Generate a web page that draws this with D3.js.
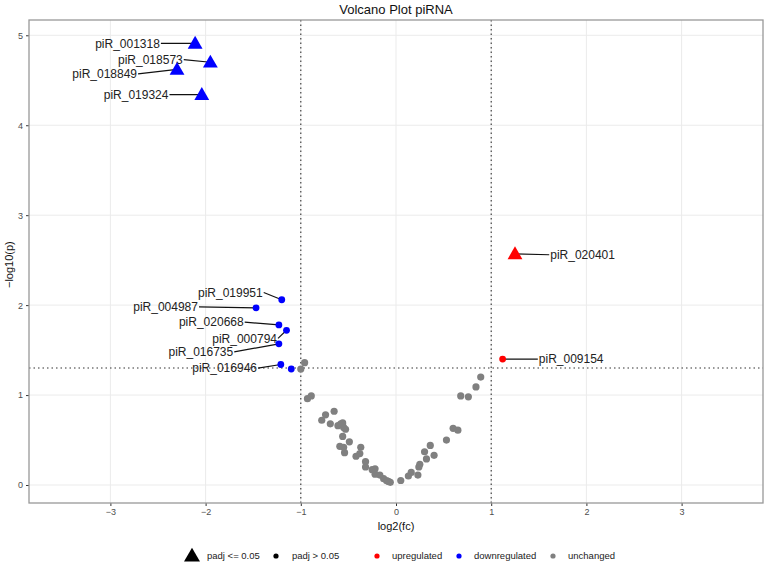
<!DOCTYPE html>
<html>
<head>
<meta charset="utf-8">
<script src="https://cdnjs.cloudflare.com/ajax/libs/d3/7.8.5/d3.min.js"></script>
<style>
  body { margin: 0; background: #fff; }
  text { font-family: "Liberation Sans", Arial, sans-serif; }
</style>
</head>
<body>
<script>
// labelled piRNAs (significant ones)
var sigNames = ["piR_001318", "piR_018573", "piR_018849", "piR_019324",
                "piR_019951", "piR_004987", "piR_020668", "piR_000794",
                "piR_016735", "piR_016946", "piR_020401", "piR_009154"]
var sigFc   = [-2.11, -1.95, -2.30, -2.04, -1.20, -1.47, -1.23, -1.15, -1.23, -1.21, 1.25, 1.12]
var sigP    = [4.91, 4.70, 4.62, 4.34, 2.06, 1.97, 1.78, 1.72, 1.57, 1.34, 2.57, 1.40]
var sigPadj = ["yes", "yes", "yes", "yes", "no", "no", "no", "no", "no", "no", "yes", "no"]
var sigReg  = ["down", "down", "down", "down", "down", "down", "down", "down", "down", "down", "up", "up"]
// where ggrepel put the labels (data units)
var labelFc = [-2.48, -2.24, -2.72, -2.39, -1.40, -2.08, -1.60, -1.25, -1.71, -1.46, 1.62, 1.50]
var labelP  = [4.91, 4.73, 4.57, 4.34, 2.14, 1.98, 1.81, 1.63, 1.48, 1.30, 2.56, 1.40]

// one unlabeled downregulated point
var extraFc = [-1.10]
var extraP  = [1.29]

// unchanged piRNAs
var grayFc = [-1.00, -0.96, -0.93, -0.89, -0.78, -0.74, -0.69, -0.65, -0.61, -0.58, -0.56, -0.53,
              -0.55, -0.56, -0.49, -0.59, -0.55, -0.54, -0.37, -0.38, -0.42, -0.32, -0.32, -0.25,
              -0.22, -0.22, -0.17, -0.13, -0.10, -0.06, -0.08, 0.05, 0.13, 0.16, 0.23, 0.24,
              0.25, 0.30, 0.32, 0.36, 0.40, 0.53, 0.60, 0.65, 0.68, 0.76, 0.84, 0.89]
var grayP  = [1.29, 1.36, 0.96, 0.99, 0.72, 0.78, 0.68, 0.82, 0.66, 0.68, 0.69, 0.62,
              0.64, 0.54, 0.48, 0.43, 0.42, 0.36, 0.42, 0.35, 0.32, 0.26, 0.20, 0.17,
              0.18, 0.12, 0.11, 0.07, 0.05, 0.03, 0.04, 0.05, 0.10, 0.14, 0.11, 0.20,
              0.23, 0.37, 0.29, 0.44, 0.33, 0.50, 0.63, 0.61, 0.99, 0.98, 1.09, 1.20]

var xTicks = [-3, -2, -1, 0, 1, 2, 3]
var yTicks = [0, 1, 2, 3, 4, 5]
var fcCut = 1
var pCut = 1.301

var regColor = {"up": "#ff0000", "down": "#0000ff", "none": "#808080"}

var w = 766, h = 567
var margin = {top: 20, right: 3, bottom: 64, left: 29}

var svg = d3.select("body").append("svg")
  .attr("width", w)
  .attr("height", h)

var xScale = d3.scaleLinear()
  .domain([-3.855, 3.855])
  .range([margin.left, w - margin.right])

var yScale = d3.scaleLinear()
  .domain([-0.2, 5.17])
  .range([h - margin.bottom, margin.top])

// grid lines
svg.append("g").selectAll("line").data(xTicks).enter().append("line")
  .attr("x1", d => xScale(d)).attr("x2", d => xScale(d))
  .attr("y1", yScale.range()[0]).attr("y2", yScale.range()[1])
  .attr("stroke", "#ebebeb").attr("stroke-width", 1)
svg.append("g").selectAll("line").data(yTicks).enter().append("line")
  .attr("y1", d => yScale(d)).attr("y2", d => yScale(d))
  .attr("x1", xScale.range()[0]).attr("x2", xScale.range()[1])
  .attr("stroke", "#ebebeb").attr("stroke-width", 1)

// threshold lines
svg.selectAll(".vcut").data([-fcCut, fcCut]).enter().append("line")
  .attr("x1", d => xScale(d)).attr("x2", d => xScale(d))
  .attr("y1", yScale.range()[0]).attr("y2", yScale.range()[1])
  .attr("stroke", "#333").attr("stroke-width", 1.1)
  .attr("stroke-dasharray", "1.5,3")
svg.append("line")
  .attr("x1", xScale.range()[0]).attr("x2", xScale.range()[1])
  .attr("y1", yScale(pCut)).attr("y2", yScale(pCut))
  .attr("stroke", "#333").attr("stroke-width", 1.1)
  .attr("stroke-dasharray", "1.5,3")

// axes
var xAxis = svg.append("g")
  .attr("transform", "translate(0," + (h - margin.bottom) + ")")
  .call(d3.axisBottom(xScale).tickValues(xTicks).tickFormat(d3.format("d")).tickSize(3).tickPadding(3))
var yAxis = svg.append("g")
  .attr("transform", "translate(" + margin.left + ",0)")
  .call(d3.axisLeft(yScale).tickValues(yTicks).tickFormat(d3.format("d")).tickSize(3).tickPadding(3))
;[xAxis, yAxis].forEach(function(a){
  a.select(".domain").remove()
  a.selectAll(".tick line").attr("stroke", "#333")
  a.selectAll(".tick text").attr("fill", "#4d4d4d")
    .style("font-size", "9px")
    .style("font-family", "'Liberation Sans', Arial, sans-serif")
})

// panel border
svg.append("rect")
  .attr("x", xScale.range()[0]).attr("y", yScale.range()[1])
  .attr("width", xScale.range()[1] - xScale.range()[0])
  .attr("height", yScale.range()[0] - yScale.range()[1])
  .attr("fill", "none").attr("stroke", "#999").attr("stroke-width", 1.3)

// gray points
var grayData = grayFc.map((d, i) => ({fc: d, p: grayP[i]}))
svg.append("g").selectAll("circle").data(grayData).enter().append("circle")
  .attr("cx", d => xScale(d.fc)).attr("cy", d => yScale(d.p))
  .attr("r", 3.6).attr("fill", regColor.none)

svg.append("g").selectAll("circle").data(extraFc).enter().append("circle")
  .attr("cx", d => xScale(d)).attr("cy", (d, i) => yScale(extraP[i]))
  .attr("r", 3.4).attr("fill", regColor.down)

// labels + segments
var sigData = sigNames.map(function(n, i){
  return {name: n, fc: sigFc[i], p: sigP[i], padj: sigPadj[i], reg: sigReg[i],
          lfc: labelFc[i], lp: labelP[i]}
})

svg.append("g").selectAll("line").data(sigData).enter().append("line")
  .attr("x1", d => xScale(d.lfc) + (d.reg == "up" ? -1 : 1))
  .attr("y1", d => yScale(d.lp))
  .attr("x2", d => xScale(d.fc)).attr("y2", d => yScale(d.p))
  .attr("stroke", "#111").attr("stroke-width", 1.2)

svg.append("g").selectAll("text").data(sigData).enter().append("text")
  .attr("x", d => xScale(d.lfc)).attr("y", d => yScale(d.lp))
  .attr("dy", "0.35em")
  .attr("text-anchor", d => d.reg == "up" ? "start" : "end")
  .style("font-size", "12px").attr("fill", "#222")
  .text(d => d.name)

var tri = d3.symbol().type(d3.symbolTriangle).size(95)
var sigMarks = svg.append("g")
sigMarks.selectAll("path").data(sigData.filter(d => d.padj == "yes")).enter().append("path")
  .attr("d", tri)
  .attr("transform", d => "translate(" + xScale(d.fc) + "," + (yScale(d.p) + 1) + ")")
  .attr("fill", d => regColor[d.reg])
sigMarks.selectAll("circle").data(sigData.filter(d => d.padj == "no")).enter().append("circle")
  .attr("cx", d => xScale(d.fc)).attr("cy", d => yScale(d.p))
  .attr("r", 3.4).attr("fill", d => regColor[d.reg])

// title and axis labels
svg.append("text")
  .attr("x", (xScale.range()[0] + xScale.range()[1]) / 2).attr("y", 14)
  .attr("text-anchor", "middle").style("font-size", "13px").attr("fill", "#111")
  .text("Volcano Plot piRNA")
svg.append("text")
  .attr("x", xScale(0)).attr("y", 530)
  .attr("text-anchor", "middle").style("font-size", "11px").attr("fill", "#111")
  .text("log2(fc)")
svg.append("text")
  .attr("transform", "translate(13," + yScale(2.45) + ") rotate(-90)")
  .attr("text-anchor", "middle").style("font-size", "11px").attr("fill", "#111")
  .text("\u2212log10(p)")

// legend
var legY = 556
var leg = svg.append("g").style("font-size", "9.5px")
leg.append("path").attr("d", d3.symbol().type(d3.symbolTriangle).size(110))
  .attr("transform", "translate(192," + (legY + 1) + ")").attr("fill", "#000")
leg.append("text").attr("x", 207).attr("y", legY).attr("dy", "0.35em").attr("fill", "#222").text("padj <= 0.05")
leg.append("circle").attr("cx", 276).attr("cy", legY).attr("r", 2.6).attr("fill", "#000")
leg.append("text").attr("x", 292).attr("y", legY).attr("dy", "0.35em").attr("fill", "#222").text("padj > 0.05")

var regLabels = ["upregulated", "downregulated", "unchanged"]
var regKeys = ["up", "down", "none"]
var regX = [377, 459, 553]
regKeys.forEach(function(k, i){
  leg.append("circle").attr("cx", regX[i]).attr("cy", legY).attr("r", 2.6).attr("fill", regColor[k])
  leg.append("text").attr("x", regX[i] + 15).attr("y", legY).attr("dy", "0.35em")
    .attr("fill", "#222").text(regLabels[i])
})
</script>
</body>
</html>
